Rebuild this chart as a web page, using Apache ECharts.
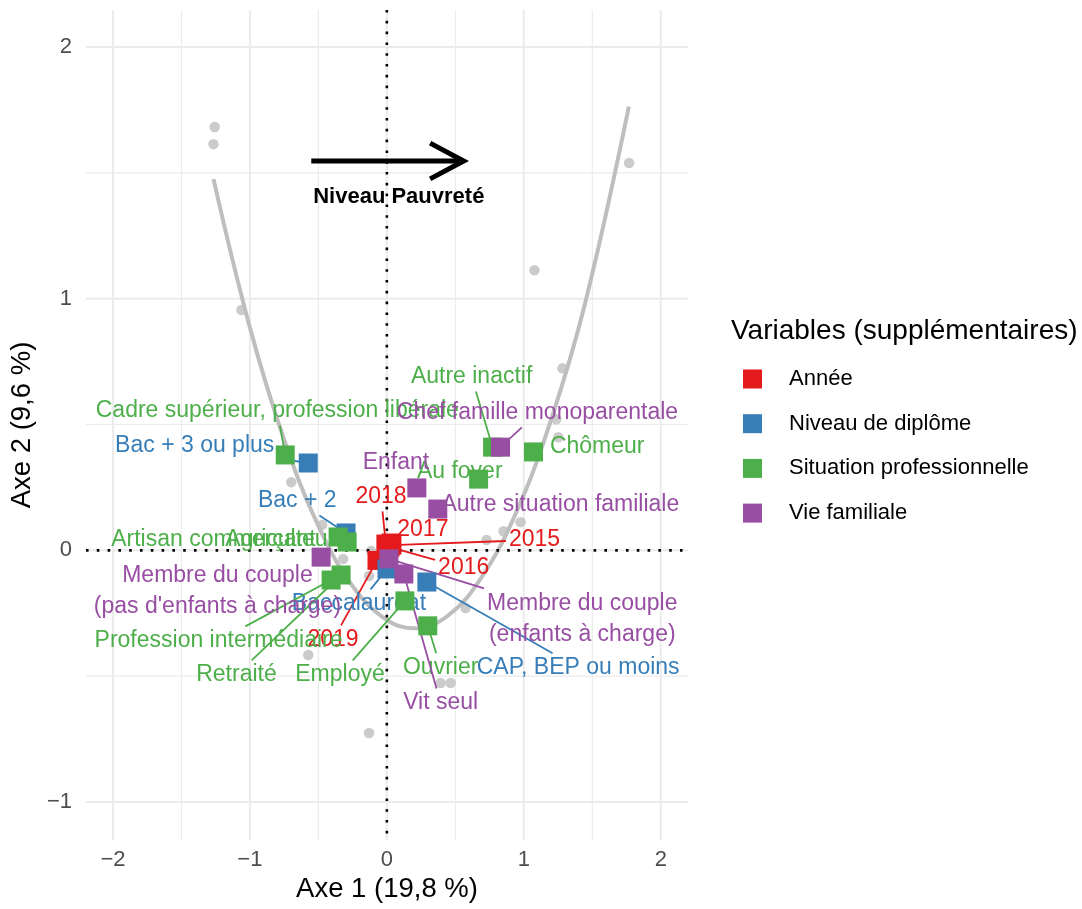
<!DOCTYPE html>
<html><head><meta charset="utf-8">
<script src="https://cdn.jsdelivr.net/npm/echarts@6/dist/echarts.min.js"></script>
<style>html,body{margin:0;padding:0;background:#fff}#c{width:1082px;height:909px}</style>
</head><body><div id="c"></div>
<script>
// ---------------- data ----------------
const groups = ['Année', 'Niveau de diplôme', 'Situation professionnelle', 'Vie familiale'];

const anneeNames = ['2015', '2016', '2017', '2018', '2019'];
const anneeX = [0.037, 0.023, 0.030, -0.007, -0.072];
const anneeY = [0.021, 0.013, 0.029, 0.025, -0.040];

const diplomeNames = ['Bac + 3 ou plus', 'Bac + 2', 'Baccalauréat', 'CAP, BEP ou moins'];
const diplomeX = [-0.574, -0.298, 0.001, 0.292];
const diplomeY = [0.347, 0.069, -0.074, -0.126];

const situationNames = ['Cadre supérieur, profession libérale', 'Artisan commerçant', 'Agriculteur',
  'Profession intermédiaire', 'Retraité', 'Employé', 'Ouvrier', 'Autre inactif', 'Chômeur', 'Au foyer'];
const situationX = [-0.742, -0.356, -0.290, -0.407, -0.334, 0.132, 0.299, 0.772, 1.071, 0.670];
const situationY = [0.379, 0.053, 0.033, -0.118, -0.098, -0.201, -0.300, 0.410, 0.391, 0.283];

const familleNames = ['Chef famille monoparentale', 'Enfant', 'Autre situation familiale',
  "Membre du couple\n(pas d'enfants à charge)", 'Membre du couple\n(enfants à charge)', 'Vit seul'];
const familleX = [0.830, 0.219, 0.372, -0.480, 0.015, 0.124];
const familleY = [0.410, 0.248, 0.164, -0.027, -0.034, -0.094];

// individuals (grey points)
const individusX = [-1.257, -1.266, -1.062, 1.769, 1.078, 1.282, 1.238, 1.252, 0.976, 0.852, 0.728,
  -0.698, -0.472, -0.319, -0.116, -0.130, -0.574, -0.130, 0.393, 0.466, 0.575];
const individusY = [1.682, 1.614, 0.955, 1.539, 1.113, 0.723, 0.521, 0.449, 0.112, 0.076, 0.041,
  0.271, 0.101, -0.034, -0.003, -0.102, -0.416, -0.726, -0.527, -0.527, -0.229];

// grey fitted curve
const courbeX = [-1.266, -1.0, -0.75, -0.5, -0.25, 0.0, 0.2, 0.45, 0.7, 0.95, 1.2, 1.45, 1.767];
const courbeY = [1.475, 0.885, 0.44, 0.097, -0.142, -0.277, -0.31, -0.258, -0.10, 0.157, 0.52, 0.987, 1.763];

// arrow annotation
const flecheX = [-0.552, 0.561];
const flecheY = [1.547, 1.547];
const flecheTexte = 'Niveau Pauvreté';
const flecheTexteXY = [0.087, 1.405];

// axes
const xTicks = [-2, -1, 0, 1, 2];
const yTicks = [-1, 0, 1, 2];
const xGrid = [-2, -1.5, -1, -0.5, 0, 0.5, 1, 1.5, 2];
const yGrid = [-1, -0.5, 0, 0.5, 1, 1.5, 2];

// repelled label placements (data units)
const labelPlacement = {
  '2015': [1.078, 0.053], '2016': [0.561, -0.058], '2017': [0.263, 0.093], '2018': [-0.043, 0.224], '2019': [-0.393, -0.344],
  'Bac + 3 ou plus': [-1.403, 0.426], 'Bac + 2': [-0.654, 0.208], 'Baccalauréat': [-0.204, -0.201], 'CAP, BEP ou moins': [1.397, -0.455],
  'Cadre supérieur, profession libérale': [-0.800, 0.565], 'Artisan commerçant': [-1.266, 0.053], 'Agriculteur': [-0.778, 0.053],
  'Profession intermédiaire': [-1.229, -0.348], 'Retraité': [-1.098, -0.483], 'Employé': [-0.342, -0.483], 'Ouvrier': [0.393, -0.455],
  'Autre inactif': [0.619, 0.701], 'Chômeur': [1.536, 0.422], 'Au foyer': [0.532, 0.323],
  'Chef famille monoparentale': [1.100, 0.558], 'Enfant': [0.066, 0.359], 'Autre situation familiale': [1.267, 0.192],
  "Membre du couple\n(pas d'enfants à charge)": [-1.237, -0.150], 'Membre du couple\n(enfants à charge)': [1.427, -0.260],
  'Vit seul': [0.393, -0.595]
};

// ---------------- styles ----------------
const FONT = '"Liberation Sans", Arial, Helvetica, sans-serif';
const palette = ['#E41A1C', '#377EB8', '#4DAF4A', '#984EA3'];
const LABEL_SIZE = 23, LABEL_LH = 31, LABEL_DY = 3;

const groupData = [
  [anneeNames, anneeX, anneeY],
  [diplomeNames, diplomeX, diplomeY],
  [situationNames, situationX, situationY],
  [familleNames, familleX, familleY]
];

const items = [];
groupData.forEach((g, gi) => {
  g[0].forEach((n, i) => items.push({ name: n, x: g[1][i], y: g[2][i], lx: labelPlacement[n][0], ly: labelPlacement[n][1], color: palette[gi] }));
});

const mctx = document.createElement('canvas').getContext('2d');
mctx.font = LABEL_SIZE + 'px ' + FONT;
function measure(s) { return mctx.measureText(s).width; }

const fmt = v => (v < 0 ? '\u2212' + Math.abs(v) : String(v));

const gridData = [];
xGrid.forEach(v => gridData.push([v, 0, xTicks.includes(v) ? 1 : 0]));
yGrid.forEach(v => gridData.push([v, 1, yTicks.includes(v) ? 1 : 0]));

const series = [];
// grid lines
series.push({
  type: 'custom', silent: true, z: 0, clip: false, data: gridData,
  renderItem(params, api) {
    const cs = params.coordSys;
    const v = api.value(0), o = api.value(1), maj = api.value(2);
    let shape;
    if (o === 0) { const p = api.coord([v, 0]); shape = { x1: p[0], y1: cs.y, x2: p[0], y2: cs.y + cs.height }; }
    else { const p = api.coord([0, v]); shape = { x1: cs.x, y1: p[1], x2: cs.x + cs.width, y2: p[1] }; }
    return { type: 'line', shape, style: { stroke: '#EBEBEB', lineWidth: maj ? 2 : 1.1 } };
  }
});
// curve
series.push({
  type: 'line', silent: true, z: 1, data: courbeX.map((x, i) => [x, courbeY[i]]), smooth: 0.4,
  symbol: 'none', lineStyle: { color: '#BEBEBE', width: 4 }
});
// grey individuals
series.push({
  type: 'scatter', silent: true, z: 2, data: individusX.map((x, i) => [x, individusY[i]]),
  symbol: 'circle', symbolSize: 10.5, itemStyle: { color: '#BEBEBE' }
});
// dotted zero lines
series.push({
  type: 'custom', silent: true, z: 3, clip: false, data: [[0, 0]],
  renderItem(params, api) {
    const cs = params.coordSys;
    const p = api.coord([0, 0]);
    const st = { stroke: '#000', lineWidth: 2.6, lineDash: [2.6, 8.2] };
    return { type: 'group', children: [
      { type: 'line', shape: { x1: cs.x, y1: p[1], x2: cs.x + cs.width, y2: p[1] }, style: st },
      { type: 'line', shape: { x1: p[0], y1: cs.y, x2: p[0], y2: cs.y + cs.height }, style: st }
    ] };
  }
});
// labels + segments
series.push({
  type: 'custom', silent: true, z: 4, clip: false, data: items.map(it => [it.lx, it.ly]),
  renderItem(params, api) {
    const it = items[params.dataIndex];
    const c0 = api.coord([api.value(0), api.value(1)]);
    const c = [c0[0], c0[1] + LABEL_DY];
    const p = api.coord([it.x, it.y]);
    const lines = it.name.split('\n');
    const w = Math.max(...lines.map(measure));
    const h = lines.length > 1 ? lines.length * LABEL_LH : LABEL_SIZE;
    const hw = w / 2 + 3, hh = h / 2 + 3;
    const dx = p[0] - c[0], dy = p[1] - c[1];
    const t = Math.min(dx ? hw / Math.abs(dx) : Infinity, dy ? hh / Math.abs(dy) : Infinity);
    const children = [];
    if (t < 1) {
      const rem = (1 - t) * Math.hypot(dx, dy);
      if (rem > 20) children.push({ type: 'line', shape: { x1: c[0] + dx * t, y1: c[1] + dy * t, x2: p[0], y2: p[1] },
        style: { stroke: it.color, lineWidth: 1.8 } });
    }
    children.push({ type: 'text', x: c[0], y: c[1], style: { text: it.name, fill: it.color, fontSize: LABEL_SIZE,
      fontFamily: FONT, align: 'center', verticalAlign: 'middle', lineHeight: lines.length > 1 ? LABEL_LH : LABEL_SIZE } });
    return { type: 'group', children };
  }
});
// squares
groupData.forEach((g, gi) => {
  series.push({
    name: groups[gi], type: 'scatter', z: 5 + gi, symbol: 'rect', symbolSize: 19,
    itemStyle: { color: palette[gi], opacity: 1 },
    data: g[1].map((x, i) => [x, g[2][i]])
  });
});
// arrow annotation
series.push({
  type: 'custom', silent: true, z: 10, clip: false, data: [[flecheX[0], flecheY[0], flecheX[1], flecheY[1]]],
  renderItem(params, api) {
    const a = api.coord([api.value(0), api.value(1)]);
    const b = api.coord([api.value(2), api.value(3)]);
    const ang = Math.atan2(b[1] - a[1], b[0] - a[0]);
    const L = 38, th = 28 * Math.PI / 180;
    const h1 = [b[0] - L * Math.cos(ang - th), b[1] - L * Math.sin(ang - th)];
    const h2 = [b[0] - L * Math.cos(ang + th), b[1] - L * Math.sin(ang + th)];
    const tp = api.coord(flecheTexteXY);
    return { type: 'group', children: [
      { type: 'line', shape: { x1: a[0], y1: a[1], x2: b[0], y2: b[1] }, style: { stroke: '#000', lineWidth: 5 } },
      { type: 'polyline', shape: { points: [h1, b, h2] }, style: { stroke: '#000', lineWidth: 5, fill: null, lineJoin: 'miter' } },
      { type: 'text', x: tp[0], y: tp[1], style: { text: flecheTexte, fill: '#000', fontSize: 22, fontWeight: 'bold',
        fontFamily: FONT, align: 'center', verticalAlign: 'middle' } }
    ] };
  }
});

const option = {
  backgroundColor: '#fff',
  animation: false,
  textStyle: { fontFamily: FONT },
  title: { text: 'Variables (supplémentaires)', left: 731, top: 317, padding: 0,
    textStyle: { fontSize: 28, fontWeight: 'normal', color: '#000', fontFamily: FONT } },
  legend: { data: groups, orient: 'vertical', left: 743, top: 368, itemWidth: 19, itemHeight: 19, itemGap: 22.7,
    icon: 'rect', selectedMode: false, padding: 0,
    textStyle: { fontSize: 22, color: '#000', fontFamily: FONT, padding: [0, 0, 0, 22] } },
  grid: { left: 84, right: 394, top: 10, bottom: 69, containLabel: false },
  xAxis: {
    type: 'value', min: -2.197, max: 2.199,
    splitLine: { show: false }, axisLine: { show: false, onZero: false }, axisTick: { show: false },
    axisLabel: { customValues: xTicks, formatter: fmt, fontSize: 22, color: '#4D4D4D', margin: 9, fontFamily: FONT },
    name: 'Axe 1 (19,8 %)', nameLocation: 'middle', nameGap: 34,
    nameTextStyle: { fontSize: 27.5, color: '#000', fontFamily: FONT }
  },
  yAxis: {
    type: 'value', min: -1.151, max: 2.147,
    splitLine: { show: false }, axisLine: { show: false, onZero: false }, axisTick: { show: false },
    axisLabel: { customValues: yTicks, formatter: fmt, fontSize: 22, color: '#4D4D4D', margin: 14, fontFamily: FONT,
      padding: [5, 0, 0, 0] },
    name: 'Axe 2 (9,6 %)', nameLocation: 'middle', nameGap: 48,
    nameTextStyle: { fontSize: 27.5, color: '#000', fontFamily: FONT }
  },
  series
};
const chart = echarts.init(document.getElementById('c'));
chart.setOption(option);
</script></body></html>
